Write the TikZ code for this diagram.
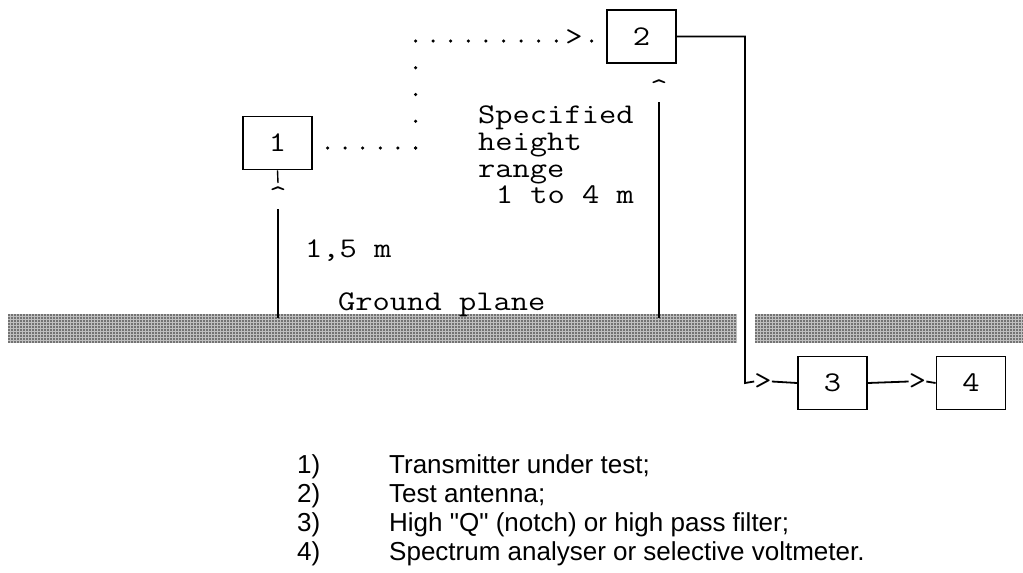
\documentclass[tikz,border=0pt]{standalone}
\usepackage{fontspec}
\usetikzlibrary{patterns.meta}
\newfontfamily\legfont{Liberation Sans}
\newcommand{\mtxt}[1]{\scalebox{1.176}[1]{\fontsize{28.5}{28.5}\selectfont\ttfamily #1}}
\tikzset{
  boxn/.style={draw, line width=1.8pt, minimum width=69pt, minimum height=53pt, inner sep=0pt},
  txt/.style={inner sep=0pt, anchor=base west},
  glyph/.style={inner sep=0pt},
  wire/.style={line width=1.8pt},
  pole/.style={line width=1.4pt},
  doth/.style={line width=3.5pt, line cap=round, dash pattern=on 0pt off 17.6pt},
  dotv/.style={line width=3.5pt, line cap=round, dash pattern=on 0pt off 26.75pt},
  groundbase/.style={fill=black!25},
  groundtex/.style={pattern={Dots[distance=3pt, radius=0.85pt]}, pattern color=black!85},
  leg/.style={inner sep=0pt, anchor=base west, font=\legfont\fontsize{26}{30}\selectfont},
}
\begin{document}
\begin{tikzpicture}[x=1pt, y=-1pt]
\useasboundingbox (0,0) rectangle (1023,573);
% ground plane
\fill[groundbase] (8,314) rectangle (737,343);
\fill[groundtex] (8,314) rectangle (737,343);
\fill[groundbase] (755,314) rectangle (1023,343);
\fill[groundtex] (755,314) rectangle (1023,343);
% boxes
\node[boxn] (b1) at (277.5,143) {\mtxt{1}};
\node[boxn] (b2) at (641.5,36.5) {\mtxt{2}};
\node[boxn] (b3) at (832.5,383) {\mtxt{3}};
\node[boxn] (b4) at (971,383) {\mtxt{4}};
% dotted path 1 -> 2
\coordinate (d1) at (327.5,148);
\coordinate (dc) at (415.5,148);
\coordinate (dt) at (415.5,41);
\coordinate (de) at (556.3,41);
\coordinate (dl) at (591.5,41);
\draw[doth] (d1) -- ([xshift=1pt]dc);
\draw[dotv] (dc) -- ([yshift=-1pt]dt);
\draw[doth] (dt) -- ([xshift=1pt]de);
\node[glyph] (a2) at (573.9,37.5) {\mtxt{>}};
\fill (dl) circle (1.75pt);
% height lines
\coordinate (s1) at (278,183);
\draw[pole] (b1.south) -- (s1);
\node[glyph, anchor=north] (c1) at (278,186) {\mtxt{\textasciicircum}};
\coordinate (t1) at (278,209);
\coordinate (g1) at (278,318);
\draw[pole] (t1) -- (g1);
\node[glyph, anchor=north] (c2) at (659,79) {\mtxt{\textasciicircum}};
\coordinate (t2) at (659,102);
\coordinate (g2) at (659,318);
\draw[pole] (t2) -- (g2);
% feed line
\node[glyph] (a3) at (763,381.5) {\mtxt{>}};
\node[glyph] (a4) at (917.5,381.5) {\mtxt{>}};
\coordinate (k1) at (745,383);
\draw[wire] (b2.east) -| (k1) -- (a3.west);
\draw[wire] (a3.east) -- (b3.west);
\draw[wire] (b3.east) -- (a4.west);
\draw[wire] (a4.east) -- (b4.west);
% texts
\node[txt] (sp1) at (478,123) {\mtxt{Specified}};
\node[txt] (sp2) at (478,150) {\mtxt{height}};
\node[txt] (sp3) at (478,177) {\mtxt{range}};
\node[txt] (sp4) at (495.6,203) {\mtxt{1 to 4 m}};
\node[txt] (h15) at (305,257) {\mtxt{1,5 m}};
\node[txt] (gp) at (338,310) {\mtxt{Ground plane}};
% legend
\node[leg] (n1) at (297,473) {1)};
\node[leg] (n2) at (297,502) {2)};
\node[leg] (n3) at (297,531) {3)};
\node[leg] (n4) at (297,560) {4)};
\node[leg] (l1) at (389,473) {Transmitter under test;};
\node[leg] (l2) at (389,502) {Test antenna;};
\node[leg] (l3) at (389,531) {High "Q" (notch) or high pass filter;};
\node[leg] (l4) at (389,560) {Spectrum analyser or selective voltmeter.};
\end{tikzpicture}
\end{document}
